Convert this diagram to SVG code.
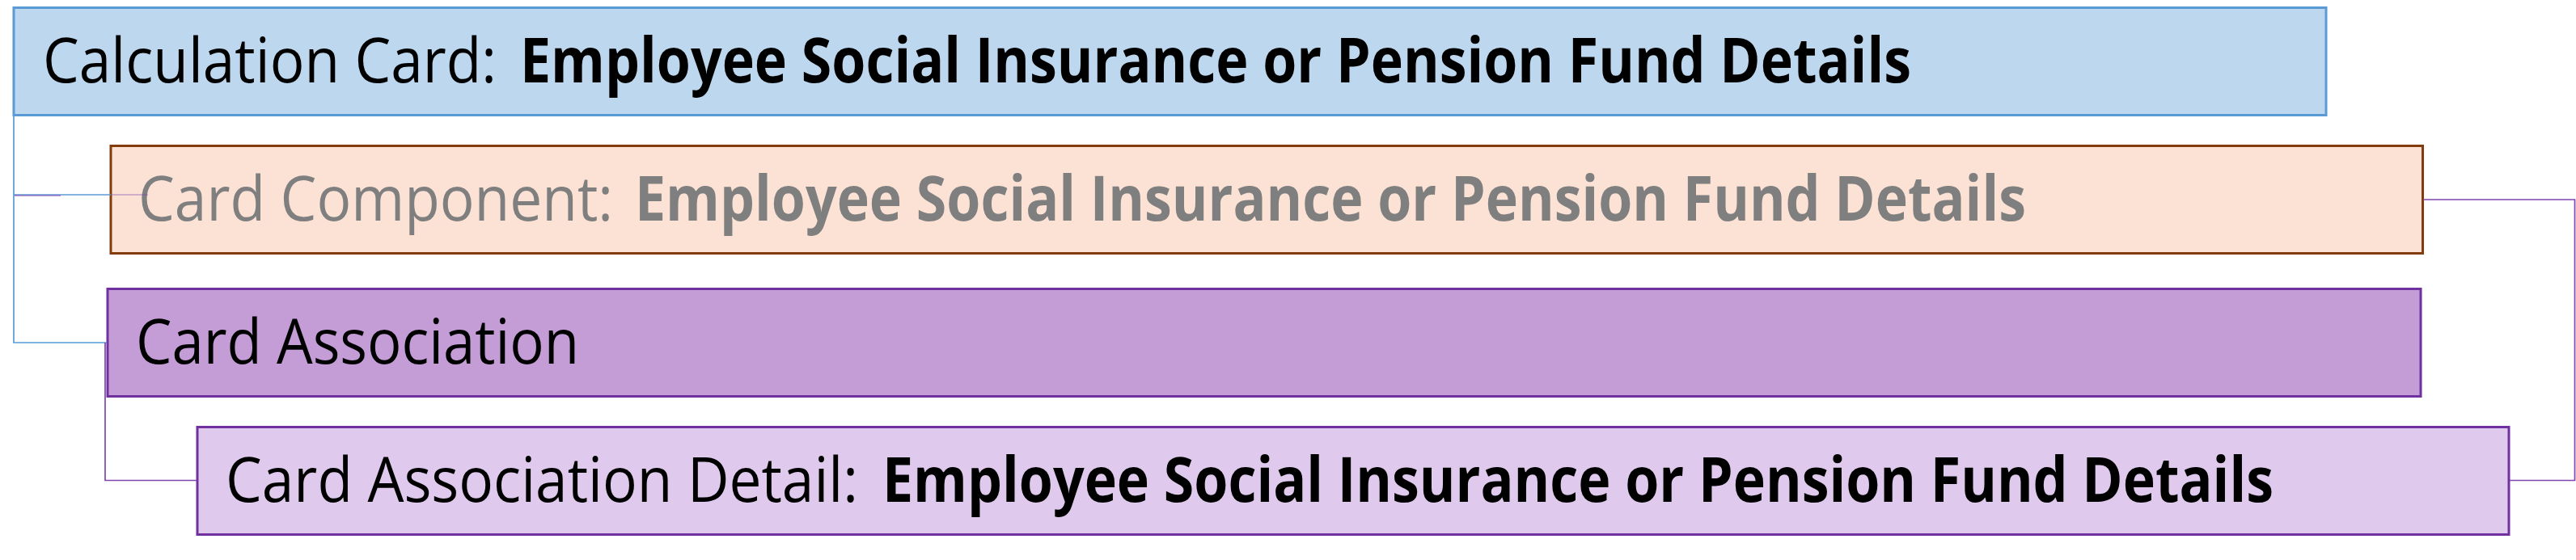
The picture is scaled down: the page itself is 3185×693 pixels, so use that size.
<svg xmlns="http://www.w3.org/2000/svg" width="3185" height="693" viewBox="0 0 3185 693">
<style>
  .box { stroke-width: 3; }
  .t { font-family: "Open Sans", "Liberation Sans", sans-serif; font-size: 77px; }
  .b { font-weight: bold; }
  .conn { fill: none; stroke-width: 1.7; }
  .blue { stroke: #5B9BD5; }
  .purple { stroke: #7F45B0; }
</style>
<rect width="3185" height="693" fill="#FFFFFF"/>
<g id="calculation-card">
  <rect class="box" x="17" y="9.5" width="2859" height="133" fill="#BDD7EE" stroke="#5B9BD5"/>
  <text class="t" x="53" y="102" fill="#000000" textLength="561" lengthAdjust="spacingAndGlyphs">Calculation Card:</text>
  <text class="t b" x="643" y="102" fill="#000000" textLength="1720" lengthAdjust="spacingAndGlyphs">Employee Social Insurance or Pension Fund Details</text>
</g>
<g id="card-component">
  <rect class="box" x="137" y="180.5" width="2858.5" height="133" fill="#FBE2D5" stroke="#843C0C"/>
  <text class="t" x="171" y="273" fill="#7F7F7F" textLength="587" lengthAdjust="spacingAndGlyphs">Card Component:</text>
  <text class="t b" x="785" y="273" fill="#7F7F7F" textLength="1720" lengthAdjust="spacingAndGlyphs">Employee Social Insurance or Pension Fund Details</text>
</g>
<g id="card-association">
  <rect class="box" x="133" y="357.5" width="2860" height="133" fill="#C49DD7" stroke="#7030A0"/>
  <text class="t" x="168" y="449.5" fill="#000000" textLength="548" lengthAdjust="spacingAndGlyphs">Card Association</text>
</g>
<g id="card-association-detail">
  <rect class="box" x="244" y="528.5" width="2858" height="133" fill="#DFCAED" stroke="#7030A0"/>
  <text class="t" x="279" y="621" fill="#000000" textLength="782" lengthAdjust="spacingAndGlyphs">Card Association Detail:</text>
  <text class="t b" x="1091" y="621" fill="#000000" textLength="1720" lengthAdjust="spacingAndGlyphs">Employee Social Insurance or Pension Fund Details</text>
</g>
<g id="connectors">
  <path class="conn blue" d="M17,142.5 V424 H132"/>
  <path class="conn blue" d="M17,241 H137"/>
  <path class="conn purple" d="M18,242 H75" stroke-opacity="0.7"/>
  <path class="conn purple" d="M138.5,241 H183" stroke-opacity="0.45"/>
  <path class="conn purple" d="M130,424 V594.5 H243"/>
  <path class="conn purple" d="M2996.5,247 H3183.5 V594.5 H3103"/>
</g>
</svg>
